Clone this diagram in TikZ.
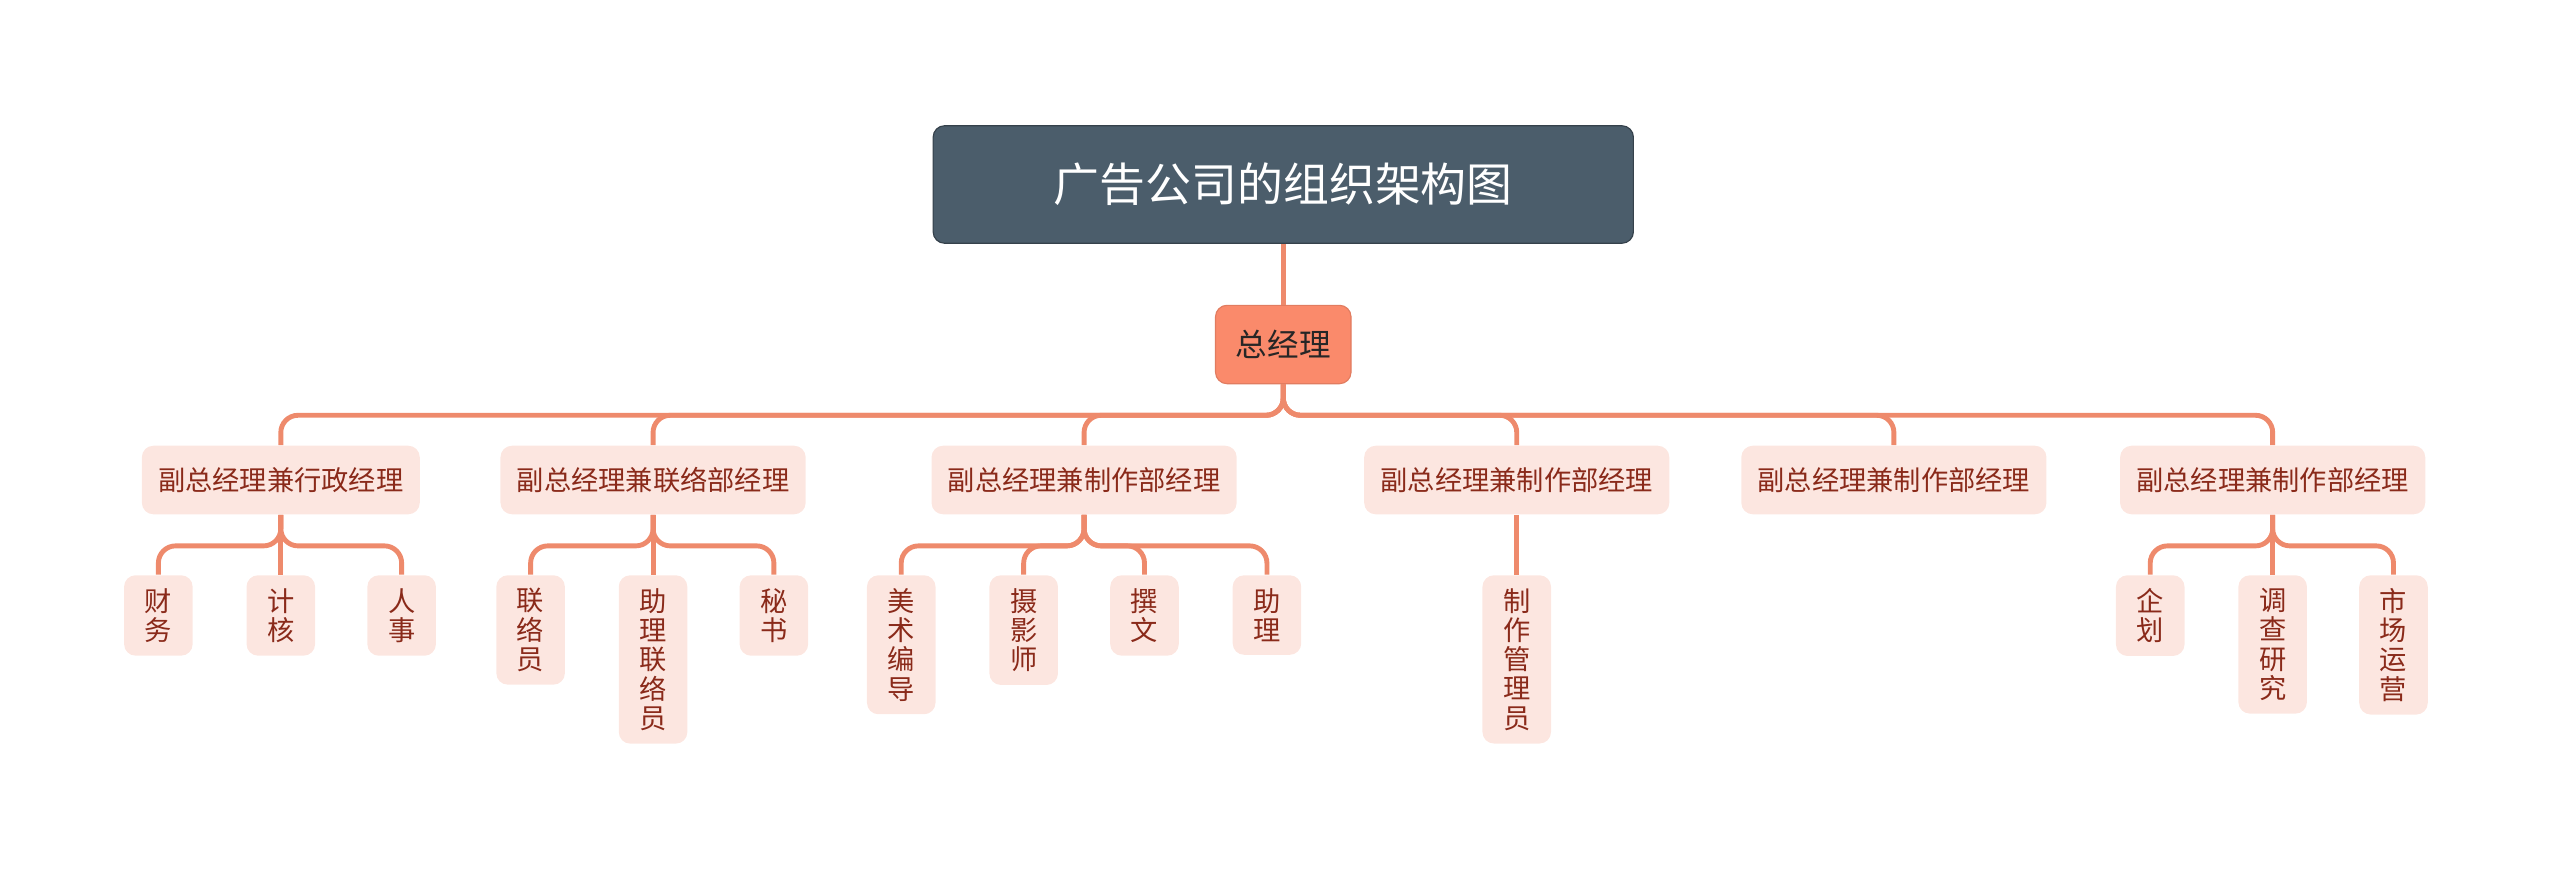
\documentclass[tikz,border=0pt]{standalone}
\usepackage{fontspec}
\setmainfont{Noto Sans CJK SC}
\usetikzlibrary{positioning}
\definecolor{root_fill}{HTML}{4B5D6B}
\definecolor{gm_fill}{HTML}{FA8A6B}
\definecolor{sub_fill}{HTML}{FCE6E0}
\definecolor{sub_text}{HTML}{8A2A1A}
\definecolor{link_col}{HTML}{EE8A6C}

\begin{document}
\begin{tikzpicture}[
    x=0.02cm, y=-0.02cm,
    rootbox/.style={fill=root_fill, draw=root_fill!70!black, rounded corners=4pt, text=white,
        minimum width=8.58cm, minimum height=1.44cm, font=\fontsize{16}{18}\selectfont},
    gmbox/.style={fill=gm_fill, draw=gm_fill!90!black, rounded corners=4pt, text=black!85,
        minimum width=1.66cm, minimum height=0.96cm, font=\fontsize{11}{13}\selectfont},
    deptbox/.style={fill=sub_fill, rounded corners=4pt, text=sub_text, inner xsep=0.2cm,
        minimum height=0.84cm, font=\fontsize{9.5}{11}\selectfont},
    leafbox/.style={fill=sub_fill, rounded corners=4pt, text=sub_text, anchor=north, align=center,
        minimum width=0.84cm, inner ysep=0.16cm, font=\fontsize{9.5}{10.2}\selectfont},
    conn/.style={draw=link_col, line width=1.7pt, rounded corners=6pt}
]
\useasboundingbox (0,0) rectangle (1568,538);

% --- Radice ---
\node[rootbox] (root) at (786,113) {广告公司的组织架构图};
\node[gmbox] (gm) at (786,211) {总经理};
\draw[conn] (root.south) -- (gm.north);

% --- Vice direttori ---
\node[deptbox] (d1) at (172,294) {副总经理兼行政经理};
\node[deptbox] (d2) at (400,294) {副总经理兼联络部经理};
\node[deptbox] (d3) at (664,294) {副总经理兼制作部经理};
\node[deptbox] (d4) at (929,294) {副总经理兼制作部经理};
\node[deptbox] (d5) at (1160,294) {副总经理兼制作部经理};
\node[deptbox] (d6) at (1392,294) {副总经理兼制作部经理};
\foreach \d in {d1,d2,d3,d4,d5,d6}
    \draw[conn] (gm.south) -- ++(0,19) -| (\d.north);

% --- Foglie ---
\node[leafbox] (a1) at (97,352) {财\\务};
\node[leafbox] (a2) at (172,352) {计\\核};
\node[leafbox] (a3) at (246,352) {人\\事};
\node[leafbox] (b1) at (325,352) {联\\络\\员};
\node[leafbox] (b2) at (400,352) {助\\理\\联\\络\\员};
\node[leafbox] (b3) at (474,352) {秘\\书};
\node[leafbox] (c1) at (552,352) {美\\术\\编\\导};
\node[leafbox] (c2) at (627,352) {摄\\影\\师};
\node[leafbox] (c3) at (701,352) {撰\\文};
\node[leafbox] (c4) at (776,352) {助\\理};
\node[leafbox] (e1) at (929,352) {制\\作\\管\\理\\员};
\node[leafbox] (f1) at (1317,352) {企\\划};
\node[leafbox] (f2) at (1392,352) {调\\查\\研\\究};
\node[leafbox] (f3) at (1466,352) {市\\场\\运\\营};

\foreach \p/\c in {d1/a1,d1/a2,d1/a3,d2/b1,d2/b2,d2/b3,d3/c1,d3/c2,d3/c3,d3/c4,d4/e1,d6/f1,d6/f2,d6/f3}
    \draw[conn] (\p.south) -- ++(0,19) -| (\c.north);

\end{tikzpicture}
\end{document}
